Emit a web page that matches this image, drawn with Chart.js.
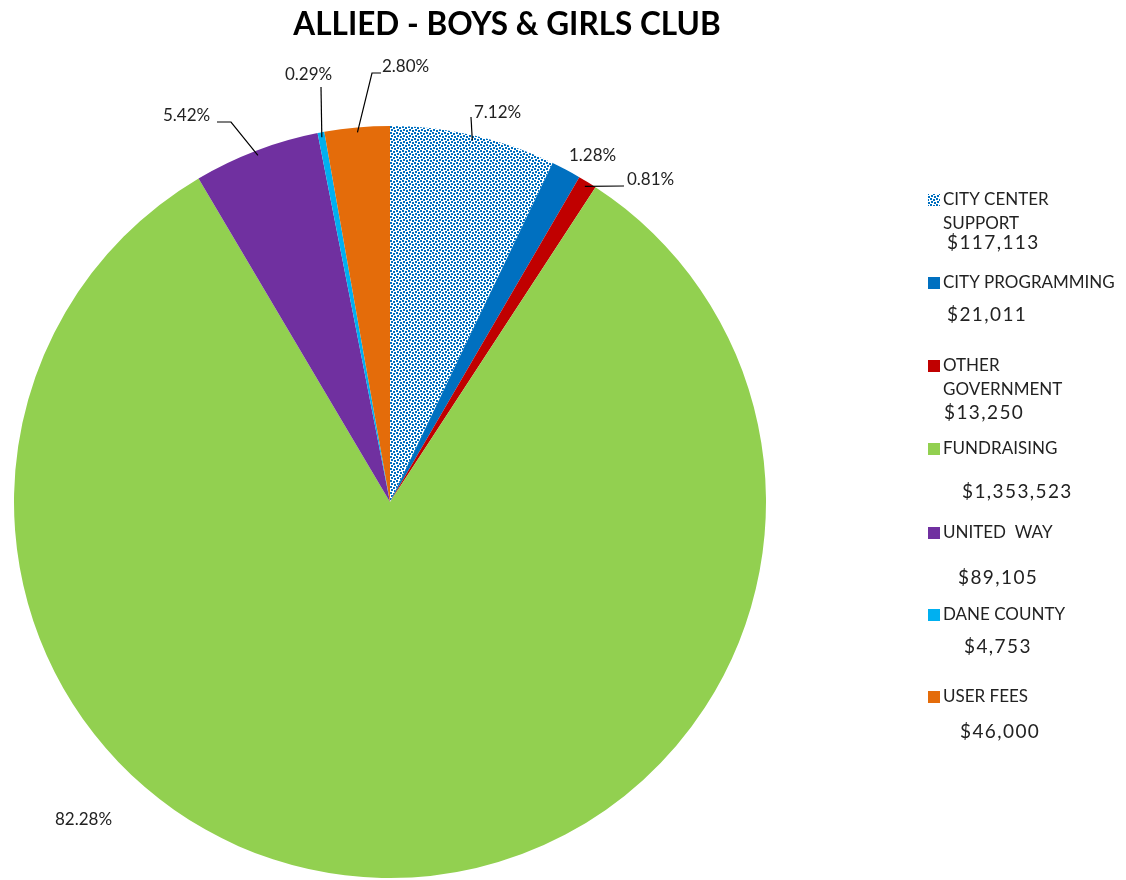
<!DOCTYPE html>
<html>
<head>
<meta charset="utf-8">
<script src="https://cdn.jsdelivr.net/npm/chart.js@4/dist/chart.umd.min.js"></script>
<style>
  html, body { margin: 0; padding: 0; background: #fff; overflow: hidden; }
</style>
</head>
<body>
<canvas id="chart" width="1126" height="880"></canvas>
<script>
const title = 'ALLIED - BOYS & GIRLS CLUB';
const categories = ['CITY CENTER SUPPORT', 'CITY PROGRAMMING', 'OTHER GOVERNMENT', 'FUNDRAISING', 'UNITED  WAY', 'DANE COUNTY', 'USER FEES'];
const amounts = [117113, 21011, 13250, 1353523, 89105, 4753, 46000];
const percentLabels = ['7.12%', '1.28%', '0.81%', '82.28%', '5.42%', '0.29%', '2.80%'];
const colors = [null, '#0070C0', '#C00000', '#92D050', '#7030A0', '#00B0F0', '#E46C0A'];

// legend text lines, split like the original
const legendLines = [['CITY CENTER', 'SUPPORT'], ['CITY PROGRAMMING'], ['OTHER', 'GOVERNMENT'], ['FUNDRAISING'], ['UNITED  WAY'], ['DANE COUNTY'], ['USER FEES']];

// layout for labels: text position, and leader polyline (elbow / end) if any
const labelLayout = [
    { x: 474, y: 113, leader: [[471, 117]] },
    { x: 569, y: 156, leader: null },
    { x: 627, y: 180, leader: [[624, 186]] },
    { x: 55, y: 820, leader: null },
    { x: 163, y: 116, leader: [[231, 122], [217, 122]] },
    { x: 285, y: 75, leader: [[321, 87]] },
    { x: 382, y: 67, leader: [[372, 73], [381, 73]] }
];

const legendLayout = [
    { y: 200, amtX: 947, amtY: 243 },
    { y: 283, amtX: 947, amtY: 315 },
    { y: 366, amtX: 944, amtY: 413 },
    { y: 449, amtX: 962, amtY: 492 },
    { y: 533, amtX: 958, amtY: 578 },
    { y: 615, amtX: 964, amtY: 647 },
    { y: 697, amtX: 960, amtY: 732 }
];

// dotted fill used by CITY CENTER SUPPORT
const makeDots = () => {
    const c = document.createElement('canvas');
    c.width = 6; c.height = 6;
    const g = c.getContext('2d');
    g.fillStyle = '#fff';
    g.fillRect(0, 0, 6, 6);
    g.fillStyle = '#0070C0';
    g.fillRect(0, 0, 2, 2);
    g.fillRect(3, 1, 2, 2);
    g.fillRect(1, 3, 2, 2);
    g.fillRect(4, 4, 2, 2);
    return c;
};

const ctx = document.getElementById('chart').getContext('2d');
const dots = ctx.createPattern(makeDots(), 'repeat');
const fills = colors.map(c => c || dots);

const FONT = 'Lato, "Open Sans", sans-serif';

const extras = {
    id: 'extras',
    afterDraw(chart) {
        const c = chart.ctx;
        const meta = chart.getDatasetMeta(0);
        c.save();

        // title
        c.fillStyle = '#000';
        c.font = 'bold 31.5px ' + FONT;
        c.textAlign = 'center';
        c.textBaseline = 'middle';
        c.fillText(title, 507, 25);

        // percent labels with leader lines
        c.font = '17px ' + FONT;
        c.textAlign = 'left';
        meta.data.forEach((arc, i) => {
            const lay = labelLayout[i];
            if (lay.leader) {
                const mid = (arc.startAngle + arc.endAngle) / 2;
                const sx = arc.x + Math.cos(mid) * (arc.outerRadius - 5);
                const sy = arc.y + Math.sin(mid) * (arc.outerRadius - 5);
                c.strokeStyle = '#000';
                c.lineWidth = 1.2;
                c.beginPath();
                c.moveTo(sx, sy);
                lay.leader.forEach(p => c.lineTo(p[0], p[1]));
                c.stroke();
            }
            c.fillStyle = '#222';
            c.fillText(percentLabels[i], lay.x, lay.y);
        });

        // legend
        categories.forEach((cat, i) => {
            const lg = legendLayout[i];
            c.fillStyle = fills[i];
            c.fillRect(928, lg.y - 6, 12, 12);
            c.fillStyle = '#222';
            c.font = '17px ' + FONT;
            c.letterSpacing = '0px';
            legendLines[i].forEach((t, k) => c.fillText(t, 943, lg.y + k * 24));
            c.font = '19px ' + FONT;
            c.letterSpacing = '1.4px';
            c.fillText('$' + amounts[i].toLocaleString('en-US'), lg.amtX, lg.amtY);
            c.letterSpacing = '0px';
        });
        c.restore();
    }
};

new Chart(ctx, {
    type: 'pie',
    data: {
        labels: categories,
        datasets: [{
            data: amounts,
            backgroundColor: fills,
            borderWidth: 0
        }]
    },
    options: {
        responsive: false,
        animation: false,
        devicePixelRatio: 1,
        layout: { padding: { top: 126, bottom: 2, left: 14, right: 360 } },
        plugins: {
            legend: { display: false },
            tooltip: { enabled: false },
            title: { display: false }
        }
    },
    plugins: [extras]
});
</script>
</body>
</html>
